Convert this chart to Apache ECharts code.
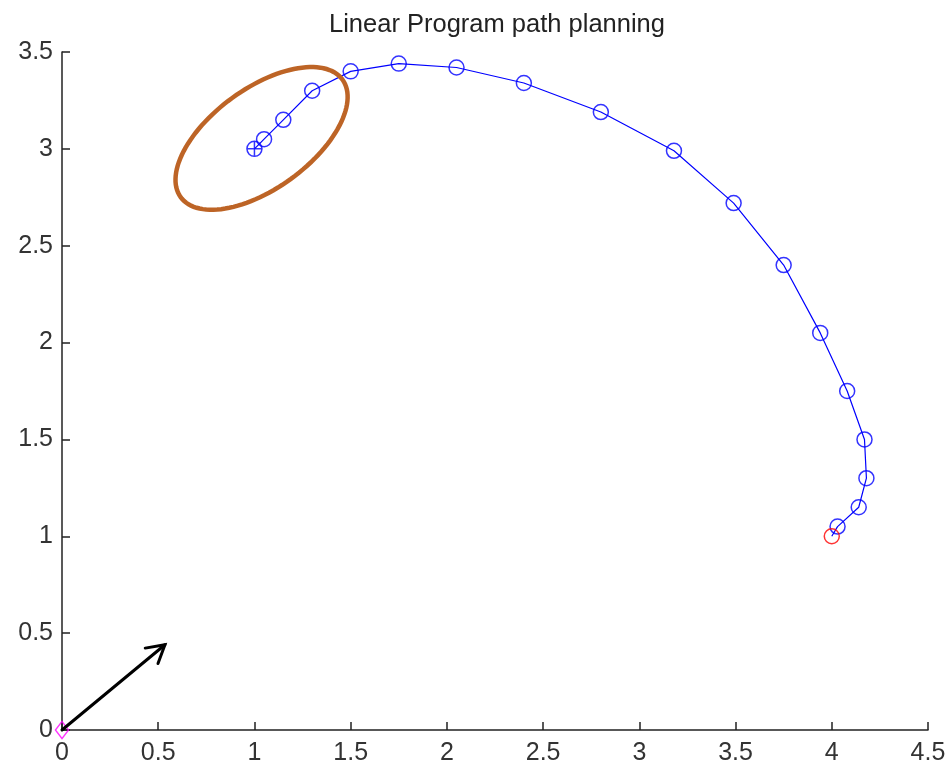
<!DOCTYPE html>
<html>
<head>
<meta charset="utf-8">
<script src="https://cdn.jsdelivr.net/npm/echarts@6/dist/echarts.min.js"></script>
<style>html,body{margin:0;padding:0;background:#fff}#c{width:949px;height:766px}</style>
</head>
<body>
<div id="c"></div>
<script>
// Path points (x, y)
const pathX = [1.0, 1.05, 1.15, 1.3, 1.5, 1.75, 2.05, 2.4, 2.8, 3.18, 3.49, 3.75, 3.94, 4.08, 4.17, 4.18, 4.14, 4.03, 4.0];
const pathY = [3.0, 3.05, 3.15, 3.3, 3.4, 3.44, 3.42, 3.34, 3.19, 2.99, 2.72, 2.4, 2.05, 1.75, 1.5, 1.3, 1.15, 1.05, 1.0];
const startPoint = [1.0, 3.0];
const goalPoint = [4.0, 1.0];
const originPoint = [0, 0];
const arrowFrom = [0, 0];
const arrowTo = [0.535, 0.44];
const ellipseCenter = [1.037, 3.054];
const xTicks = [0, 0.5, 1, 1.5, 2, 2.5, 3, 3.5, 4, 4.5];
const yTicks = [0, 0.5, 1, 1.5, 2, 2.5, 3, 3.5];

const pathData = pathX.map((x, i) => [x, pathY[i]]);
const blueData = pathData.slice(0, pathData.length - 1);

const chart = echarts.init(document.getElementById('c'));
const font = 'Liberation Sans, Arial, sans-serif';
chart.setOption({
  animation: false,
  title: {
    text: 'Linear Program path planning',
    left: 492, textAlign: 'center', top: 7,
    textStyle: {fontFamily: font, fontSize: 25.5, fontWeight: 'normal', color: '#222'}
  },
  grid: {left: 62, right: 21, top: 52, bottom: 36},
  xAxis: {
    type: 'value', min: xTicks[0], max: xTicks[xTicks.length - 1], interval: 0.5,
    axisLine: {lineStyle: {color: '#222', width: 1.5}},
    axisTick: {inside: true, length: 8, lineStyle: {color: '#222', width: 1.5}},
    axisLabel: {fontFamily: font, fontSize: 25, color: '#333', margin: 11},
    splitLine: {show: false}
  },
  yAxis: {
    type: 'value', min: yTicks[0], max: yTicks[yTicks.length - 1], interval: 0.5,
    axisLine: {show: true, lineStyle: {color: '#222', width: 1.5}},
    axisTick: {show: true, inside: true, length: 8, lineStyle: {color: '#222', width: 1.5}},
    axisLabel: {fontFamily: font, fontSize: 25, color: '#333', margin: 9},
    splitLine: {show: false}
  },
  series: [
    {
      type: 'line', data: pathData, symbol: 'none',
      lineStyle: {color: '#0000ff', width: 1.2}, z: 2
    },
    {
      type: 'scatter', data: blueData, symbol: 'circle', symbolSize: 15,
      itemStyle: {color: 'rgba(0,0,0,0)', borderColor: '#0000ff', borderWidth: 1.5}, z: 3
    },
    {
      type: 'scatter', data: [startPoint], symbol: 'path://M5 0 L5 10 M0 5 L10 5', symbolSize: 14,
      itemStyle: {color: 'rgba(0,0,0,0)', borderColor: '#0000ff', borderWidth: 1.5}, z: 3
    },
    {
      type: 'scatter', data: [goalPoint], symbol: 'circle', symbolSize: 15,
      itemStyle: {color: 'rgba(0,0,0,0)', borderColor: '#ff0000', borderWidth: 1.5}, z: 4
    },
    {
      type: 'scatter', data: [originPoint], symbol: 'diamond', symbolSize: [13, 17],
      itemStyle: {color: 'rgba(0,0,0,0)', borderColor: '#ff00ff', borderWidth: 1.5}, z: 4
    },
    {
      type: 'custom', data: [[0, 0]], z: 6, silent: true,
      renderItem: function (params, api) {
        const p0 = api.coord(arrowFrom);
        const p1 = api.coord(arrowTo);
        const ang = Math.atan2(p1[1] - p0[1], p1[0] - p0[0]);
        const L = 20, spread = Math.PI / 6;
        const h1 = [p1[0] - L * Math.cos(ang - spread), p1[1] - L * Math.sin(ang - spread)];
        const h2 = [p1[0] - L * Math.cos(ang + spread), p1[1] - L * Math.sin(ang + spread)];
        const style = {stroke: '#000', lineWidth: 3, fill: null, lineCap: 'round', lineJoin: 'miter'};
        return {
          type: 'group', children: [
            {type: 'line', shape: {x1: p0[0], y1: p0[1], x2: p1[0], y2: p1[1]}, style: style},
            {type: 'polyline', shape: {points: [h1, p1, h2]}, style: style}
          ]
        };
      }
    },
    {
      type: 'custom', data: [[0, 0]], z: 6, silent: true,
      renderItem: function (params, api) {
        const c = api.coord(ellipseCenter);
        const a = 100, b = 50, th = 36 * Math.PI / 180;
        const pts = [];
        for (let i = 0; i < 120; i++) {
          const t = i / 120 * Math.PI * 2;
          const ex = a * Math.cos(t), ey = b * Math.sin(t);
          pts.push([c[0] + ex * Math.cos(th) + ey * Math.sin(th), c[1] - ex * Math.sin(th) + ey * Math.cos(th)]);
        }
        return {type: 'polygon', shape: {points: pts}, style: {stroke: '#bd6426', lineWidth: 4.5, fill: null}};
      }
    }
  ]
});
</script>
</body>
</html>
